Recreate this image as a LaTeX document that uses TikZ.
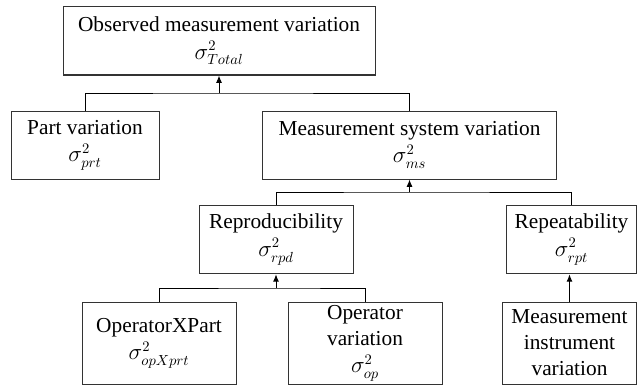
\documentclass[tikz,border=0pt]{standalone}
\usepackage{fontspec}
\newfontfamily\boxfont{Liberation Serif}
\usetikzlibrary{arrows.meta}

\begin{document}
\begin{tikzpicture}[y ={(0 pt ,-0.75 pt )}, x ={( 0.75 pt , 0 pt )},
	box/.style = {draw = black!80, line width = 0.75pt, rectangle, align = center, inner sep = 0pt,
		font = \boxfont\fontsize{16}{19.5}\selectfont},
	bus/.style = {line width = 0.75pt},
	up/.style = {line width = 0.75pt, -{Latex[length = 5.5pt, width = 4.5pt]}}]
			\useasboundingbox (0,0) rectangle (638,385);
			\node[box, minimum width = 234pt, minimum height = 51pt] (total) at (219,41) {Observed measurement variation\\[1pt]$\sigma^{2}_{Total}$};
			\node[box, minimum width = 111pt, minimum height = 51pt] (part) at (85,145) {Part variation\\[1pt]$\sigma^{2}_{prt}$};
			\node[box, minimum width = 221pt, minimum height = 51pt] (ms) at (409.5,145) {Measurement system variation\\[1pt]$\sigma^{2}_{ms}$};
			\node[box, minimum width = 115.5pt, minimum height = 51.5pt] (rpd) at (276,239.5) {Reproducibility\\[1pt]$\sigma^{2}_{rpd}$};
			\node[box, minimum width = 98pt, minimum height = 51.5pt] (rpt) at (571.5,239.5) {Repeatability\\[1pt]$\sigma^{2}_{rpt}$};
			\node[box, minimum width = 115.5pt, minimum height = 61.5pt] (opx) at (159,343) {OperatorXPart\\[1pt]$\sigma^{2}_{opXprt}$};
			\node[box, minimum width = 115.5pt, minimum height = 61.5pt] (op) at (365,343) {Operator\\variation\\[1pt]$\sigma^{2}_{op}$};
			\node[box, minimum width = 101pt, minimum height = 61.5pt] (inst) at (569.5,343) {Measurement\\instrument\\variation};
			\coordinate (j1) at (219,93);
			\coordinate (j2) at (409.5,192);
			\coordinate (j3) at (276,288);
			\draw[bus] (part.north) |- (j1) -| (ms.north);
			\draw[up] (j1) -- (total.south);
			\draw[bus] (rpd.north) |- (j2) -| (rpt.north);
			\draw[up] (j2) -- (ms.south);
			\draw[bus] (opx.north) |- (j3) -| (op.north);
			\draw[up] (j3) -- (rpd.south);
			\draw[up] (inst.north) -- (inst.north |- rpt.south);
		\end{tikzpicture}
\end{document}
